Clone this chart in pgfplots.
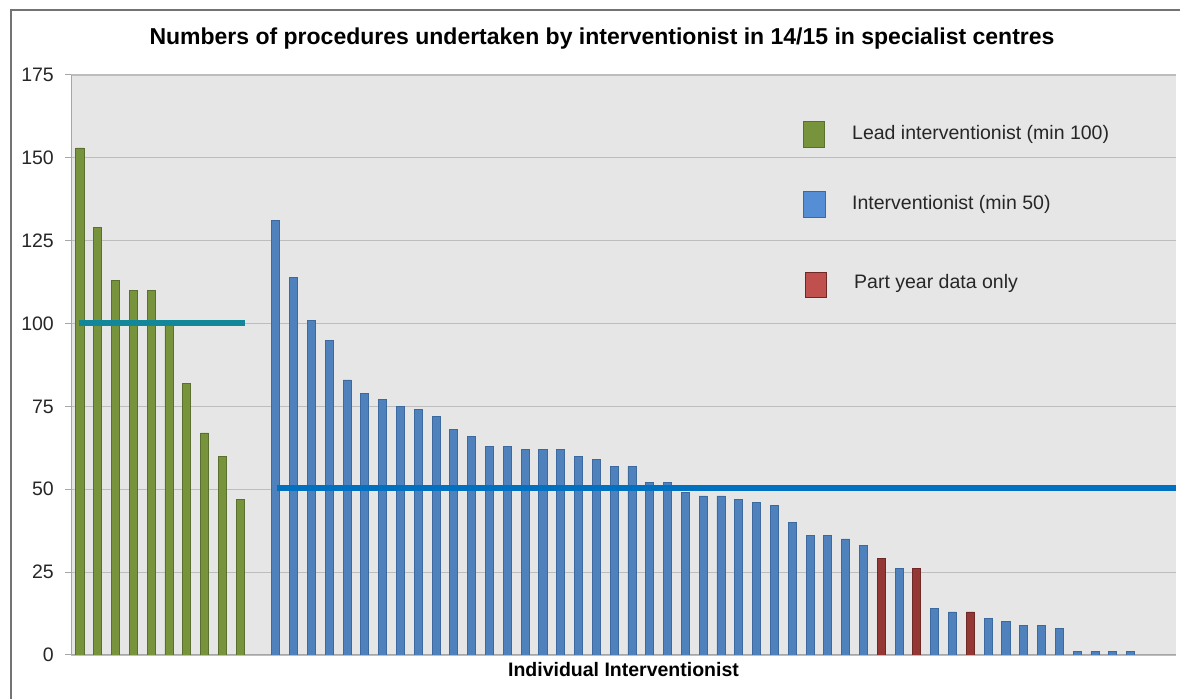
\documentclass[border=0pt]{standalone}
\usepackage{fontspec}
\setmainfont{Liberation Sans}
\usepackage{pgfplots}
\pgfplotsset{compat=1.18}
\definecolor{barGreen}{HTML}{77933C}
\definecolor{barGreenEdge}{HTML}{5A7030}
\definecolor{barBlue}{HTML}{4F81BD}
\definecolor{barBlueEdge}{HTML}{3D6A9E}
\definecolor{barRed}{HTML}{953735}
\definecolor{barRedEdge}{HTML}{6E2826}
\definecolor{legBlue}{HTML}{558ED5}
\definecolor{legRed}{HTML}{C0504D}
\definecolor{tealLine}{HTML}{13879A}
\definecolor{blueLine}{HTML}{0070C0}
\definecolor{bgGray}{HTML}{E6E6E6}
\definecolor{gridGray}{HTML}{BDBDBD}
\definecolor{txt}{HTML}{262626}
\begin{document}
\begin{tikzpicture}
\path[use as bounding box] (0,0) rectangle (1180bp,699bp);
\draw[color=black!55, line width=1.5bp] (11bp,0) -- (11bp,689bp) -- (1180bp,689bp);
\begin{axis}[
  at={(71bp,44bp)}, anchor=south west,
  width=1105bp, height=580bp, scale only axis,
  xmin=-0.5, xmax=61.55, ymin=0, ymax=175,
  ytick={0,25,50,75,100,125,150,175},
  xtick=\empty,
  axis lines*=left,
  axis line style={color=black!35, line width=1bp},
  axis background/.style={fill=bgGray},
  ymajorgrids, grid style={color=gridGray, line width=1.2bp},
  tick align=outside, major tick length=6bp,
  y tick style={color=black!35, line width=1bp},
  /pgf/number format/assume math mode=true,
  tick label style={font=\fontsize{19.5bp}{22bp}\selectfont, text=txt},
  yticklabel style={inner sep=0pt, xshift=-11bp},
  xlabel={\textbf{Individual Interventionist}},
  xlabel style={font=\fontsize{19.5bp}{22bp}\selectfont, text=black, at={(rel axis cs:0.5,0)}, anchor=north, yshift=-4bp},
]
\addplot[ybar, bar width=0.45, bar shift=0, fill=barGreen, draw=barGreenEdge, line width=0.8bp] coordinates {
 (0,153) (1,129) (2,113) (3,110) (4,110) (5,100) (6,82) (7,67) (8,60) (9,47)};
\addplot[ybar, bar width=0.45, bar shift=0, fill=barBlue, draw=barBlueEdge, line width=0.8bp] coordinates {
 (11,131) (12,114) (13,101) (14,95) (15,83) (16,79) (17,77) (18,75) (19,74) (20,72)
 (21,68) (22,66) (23,63) (24,63) (25,62) (26,62) (27,62) (28,60) (29,59) (30,57)
 (31,57) (32,52) (33,52) (34,49) (35,48) (36,48) (37,47) (38,46) (39,45) (40,40)
 (41,36) (42,36) (43,35) (44,33) (46,26) (48,14) (49,13) (51,11) (52,10) (53,9)
 (54,9) (55,8) (56,1) (57,1) (58,1) (59,1)};
\addplot[ybar, bar width=0.45, bar shift=0, fill=barRed, draw=barRedEdge, line width=0.8bp] coordinates {
 (45,29) (47,26) (50,13)};
\addplot[tealLine, line width=6.2bp, no marks] coordinates {(-0.06,100.2) (9.27,100.2)};
\addplot[blueLine, line width=6.2bp, no marks] coordinates {(11.05,50.5) (61.55,50.5)};
\end{axis}
% title
\node[font=\fontsize{23bp}{26bp}\selectfont\bfseries, text=black] at (602bp,660bp) {Numbers of procedures undertaken by interventionist in 14/15 in specialist centres};
% legend
\draw[fill=barGreen, draw=barGreenEdge, line width=0.8bp] (803bp,552bp) rectangle (824bp,578bp);
\draw[fill=legBlue, draw=barBlueEdge, line width=0.8bp] (803bp,482bp) rectangle (825bp,508bp);
\draw[fill=legRed, draw=barRedEdge, line width=0.8bp] (805bp,402bp) rectangle (826bp,427bp);
\node[anchor=west, inner sep=0pt, font=\fontsize{19.5bp}{22bp}\selectfont, text=txt] at (852bp,565bp) {Lead interventionist (min 100)};
\node[anchor=west, inner sep=0pt, font=\fontsize{19.5bp}{22bp}\selectfont, text=txt] at (852bp,495bp) {Interventionist (min 50)};
\node[anchor=west, inner sep=0pt, font=\fontsize{19.5bp}{22bp}\selectfont, text=txt] at (854bp,416bp) {Part year data only};
\end{tikzpicture}
\end{document}
